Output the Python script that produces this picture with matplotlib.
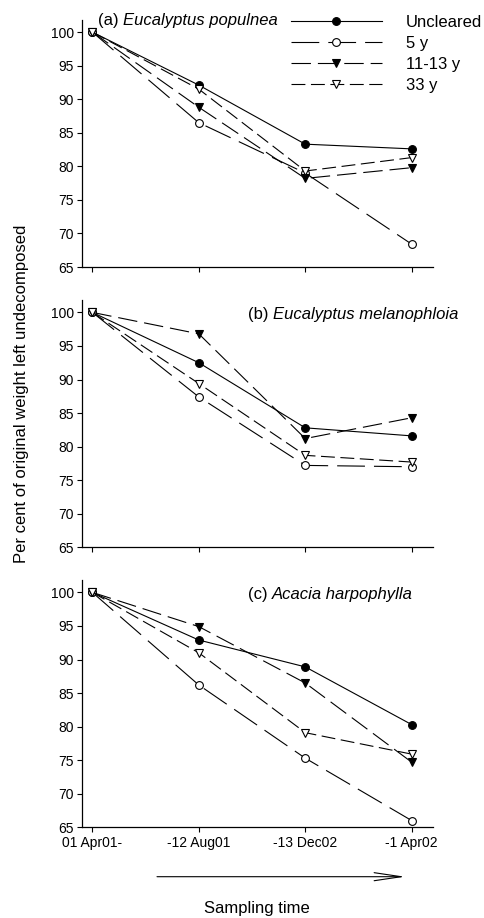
import matplotlib
matplotlib.use("Agg")
import matplotlib.pyplot as plt
from matplotlib.patches import FancyArrowPatch

plt.rcParams['font.family'] = ['Liberation Sans', 'DejaVu Sans']
plt.rcParams['lines.scale_dashes'] = False

# ---- data ----
sampling_times = ["01 Apr01-", "-12 Aug01", "-13 Dec02", "-1 Apr02"]
series_names = ["Uncleared", "5 y", "11-13 y", "33 y"]
panel_labels = ["(a)", "(b)", "(c)"]
species = ["Eucalyptus populnea", "Eucalyptus melanophloia", "Acacia harpophylla"]

a_uncleared = [100, 92.1, 83.3, 82.6]
a_5y = [100, 86.5, 79.0, 68.4]
a_11_13y = [100, 88.8, 78.2, 79.8]
a_33y = [100, 91.5, 79.3, 81.3]

b_uncleared = [100, 92.5, 82.8, 81.6]
b_5y = [100, 87.4, 77.2, 77.0]
b_11_13y = [100, 96.8, 81.2, 84.3]
b_33y = [100, 89.4, 78.7, 77.7]

c_uncleared = [100, 92.9, 88.9, 80.3]
c_5y = [100, 86.2, 75.3, 66.0]
c_11_13y = [100, 94.9, 86.5, 74.7]
c_33y = [100, 91.0, 79.1, 75.9]

panels = [
    [a_uncleared, a_5y, a_11_13y, a_33y],
    [b_uncleared, b_5y, b_11_13y, b_33y],
    [c_uncleared, c_5y, c_11_13y, c_33y],
]

yticks = [65, 70, 75, 80, 85, 90, 95, 100]

# ---- styles ----
styles = [
    dict(linestyle='-', marker='o', mfc='black', mec='black'),
    dict(dashes=(20, 6.5), marker='o', mfc='white', mec='black'),
    dict(dashes=(14, 5), marker='v', mfc='black', mec='black'),
    dict(dashes=(10, 4), marker='v', mfc='white', mec='black'),
]

W, H = 485, 918
fig = plt.figure(figsize=(W / 100, H / 100), dpi=100)

left = 81.7 / W
width = (433 - 81.7) / W
tops = [20, 300.3, 580.3]
bottoms = [267, 547.3, 827.3]
title_pos = [(98, 21), (248, 315), (248, 594)]

x = list(range(len(sampling_times)))
for i, data in enumerate(panels):
    b = 1 - bottoms[i] / H
    h = (bottoms[i] - tops[i]) / H
    ax = fig.add_axes([left, b, width, h])
    handles = []
    for s, vals in enumerate(data):
        ln, = ax.plot(x, vals, color='black', lw=0.8, ms=5.6, mew=0.8,
                      label=series_names[s], **styles[s])
        handles.append(ln)
    ax.set_xlim(-0.1, 3.2)
    ax.set_ylim(65, 101.8)
    ax.set_yticks(yticks)
    ax.set_xticks(x)
    for sp in ['top', 'right']:
        ax.spines[sp].set_visible(False)
    for sp in ['left', 'bottom']:
        ax.spines[sp].set_linewidth(0.9)
    ax.tick_params(axis='both', direction='out', length=3.5, width=0.8,
                   labelsize=10, pad=2)
    if i < 2:
        ax.set_xticklabels([])
    else:
        ax.set_xticklabels(sampling_times, fontsize=10)
        ax.tick_params(axis='x', pad=3)

    # panel title: normal label + italic species
    tx, ty = title_pos[i]
    t1 = fig.text(tx / W, 1 - ty / H, panel_labels[i] + " ", fontsize=12,
                  va='center', ha='left')
    ax.annotate(species[i], xy=(1, 0), xycoords=t1, fontsize=12,
                style='italic', va='bottom', ha='left')

    if i == 0:
        fig.legend(handles=handles, loc='upper left',
                   bbox_to_anchor=(291 / W, 1 - 15 / H),
                   frameon=False, fontsize=12, handlelength=5.45,
                   handletextpad=1.44, labelspacing=0.36,
                   borderaxespad=0, borderpad=0)

# y label
fig.text(22 / W, 1 - 394 / H, "Per cent of original weight left undecomposed",
         rotation=90, fontsize=12, va='center', ha='center')

# arrow for sampling time
fig.add_artist(FancyArrowPatch(
    (157 / W, 1 - 876.7 / H), (405 / W, 1 - 876.7 / H),
    transform=fig.transFigure,
    arrowstyle='->,head_length=19.5,head_width=2.9',
    lw=0.8, color='black', mutation_scale=1, shrinkA=0, shrinkB=0))

fig.text(257 / W, 1 - 908 / H, "Sampling time", fontsize=12,
         ha='center', va='center')

fig.savefig("out.png", dpi=100)
